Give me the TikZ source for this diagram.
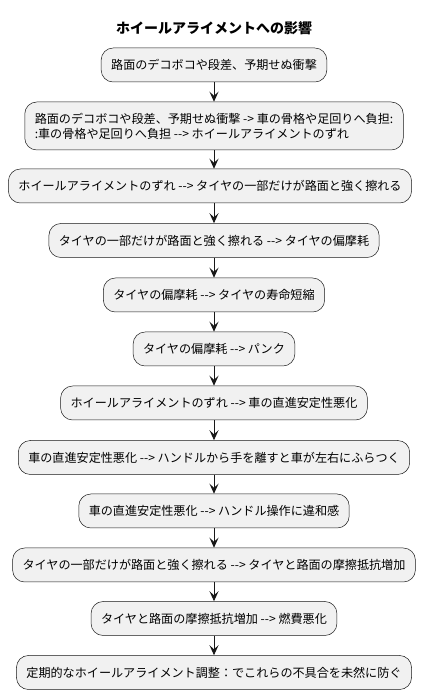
\documentclass[tikz,border=0pt]{standalone}
\usepackage{fontspec}
\setmainfont{Noto Sans CJK JP}
\usetikzlibrary{arrows.meta}
\definecolor{boxfill}{HTML}{F1F1F1}
\definecolor{boxline}{HTML}{181818}
\newcommand{\dd}{-{}-}
\tikzset{
  actbox/.style={draw=boxline, line width=0.5pt, fill=boxfill, rounded corners=12pt,
    minimum height=34pt, inner xsep=10pt, inner ysep=4pt, font=\fontsize{12.1pt}{15pt}\selectfont},
  flow/.style={draw=boxline, line width=1pt, -{Stealth[length=10pt,width=9pt,inset=4pt]}},
  titletext/.style={font=\fontsize{14pt}{16pt}\selectfont\bfseries}
}
\begin{document}
\begin{tikzpicture}[x=1pt,y=1pt]
\useasboundingbox (0,0) rectangle (427,699);
\node[titletext] (title) at (214,671) {ホイールアライメントへの影響};
\node[actbox] (b1) at (214,634) {路面のデコボコや段差、予期せぬ衝撃};
\node[actbox, minimum height=48pt, align=left] (b2) at (214,573) {路面のデコボコや段差、予期せぬ衝撃 -> 車の骨格や足回りへ負担:\\:車の骨格や足回りへ負担 \dd> ホイールアライメントのずれ};
\node[actbox] (b3) at (210,513) {ホイールアライメントのずれ \dd> タイヤの一部だけが路面と強く擦れる};
\node[actbox] (b4) at (214,458.5) {タイヤの一部だけが路面と強く擦れる \dd> タイヤの偏摩耗};
\node[actbox] (b5) at (214,404) {タイヤの偏摩耗 \dd> タイヤの寿命短縮};
\node[actbox] (b6) at (214,350) {タイヤの偏摩耗 \dd> パンク};
\node[actbox] (b7) at (214,296) {ホイールアライメントのずれ \dd> 車の直進安定性悪化};
\node[actbox] (b8) at (214,241.5) {車の直進安定性悪化 \dd> ハンドルから手を離すと車が左右にふらつく};
\node[actbox] (b9) at (214,188) {車の直進安定性悪化 \dd> ハンドル操作に違和感};
\node[actbox] (b10) at (214,134) {タイヤの一部だけが路面と強く擦れる \dd> タイヤと路面の摩擦抵抗増加};
\node[actbox] (b11) at (214,80.5) {タイヤと路面の摩擦抵抗増加 \dd> 燃費悪化};
\node[actbox] (b12) at (214,26.5) {定期的なホイールアライメント調整：でこれらの不具合を未然に防ぐ};
\draw[flow] (b1.south) -- (b2.north);
\draw[flow] (b2.south) -- (b3.north -| b2.south);
\draw[flow] (b3.south -| b2.south) -- (b4.north);
\draw[flow] (b4.south) -- (b5.north);
\draw[flow] (b5.south) -- (b6.north);
\draw[flow] (b6.south) -- (b7.north);
\draw[flow] (b7.south) -- (b8.north);
\draw[flow] (b8.south) -- (b9.north);
\draw[flow] (b9.south) -- (b10.north);
\draw[flow] (b10.south) -- (b11.north);
\draw[flow] (b11.south) -- (b12.north);
\end{tikzpicture}
\end{document}
